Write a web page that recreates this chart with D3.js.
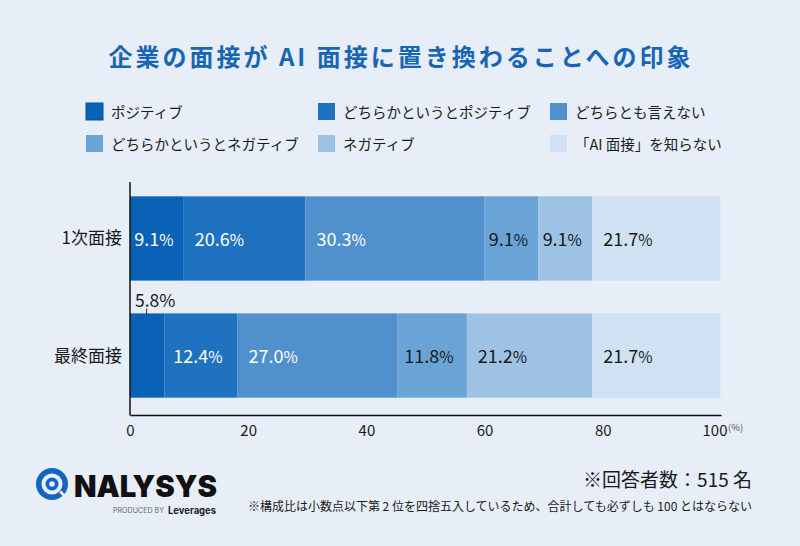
<!DOCTYPE html>
<html><head><meta charset="utf-8">
<script src="https://cdn.jsdelivr.net/npm/d3@7"></script>
<style>
body{margin:0;background:#e7eef8;}
svg{display:block;font-family:"Noto Sans CJK JP","Noto Sans",sans-serif;}
</style></head>
<body><svg id="c" width="800" height="546"></svg>
<script>
const title = "企業の面接が AI 面接に置き換わることへの印象";
const categories = ["1次面接", "最終面接"];
const seriesNames = ["ポジティブ", "どちらかというとポジティブ", "どちらとも言えない", "どちらかというとネガティブ", "ネガティブ", "「AI 面接」を知らない"];
const seriesColors = ["#0a62b6", "#1f72c0", "#4f90cd", "#6aa4d6", "#9dc2e4", "#cfe1f2"];
const labelColors = ["#ffffff", "#ffffff", "#ffffff", "#1a1a1a", "#1a1a1a", "#1a1a1a"];
const values1 = [9.1, 20.6, 30.3, 9.1, 9.1, 21.7];
const values2 = [5.8, 12.4, 27.0, 11.8, 21.2, 21.7];
const xTicks = [0, 20, 40, 60, 80, 100];
const respondents = "※回答者数：515 名";
const note = "※構成比は小数点以下第 2 位を四捨五入しているため、合計しても必ずしも 100 とはならない";

const rows = [values1, values2];
const svg = d3.select("#c");
svg.append("rect").attr("width", 800).attr("height", 546).attr("fill", "#e7eef8");

// Title
svg.append("text").attr("x", 401).attr("y", 66).attr("text-anchor", "middle")
  .attr("font-size", 24).attr("font-weight", 700).attr("letter-spacing", 3)
  .attr("fill", "#1766b6").text(title);

// Legend
const legX = [86, 318, 550];
const legY = [103, 135];
seriesNames.forEach((n, i) => {
  const g = svg.append("g").attr("transform", `translate(${legX[i % 3]},${legY[Math.floor(i / 3)]})`);
  g.append("rect").attr("width", 17).attr("height", 17).attr("fill", seriesColors[i])
    .attr("stroke", i === 0 ? "#0b4f9a" : "none").attr("stroke-width", 1);
  g.append("text").attr("x", 25).attr("y", 14.5).attr("font-size", 14.5).attr("fill", "#1a1a1a").text(n);
});

// Scales
const x = d3.scaleLinear().domain([0, 100]).range([130, 721]);
const y = d3.scaleBand().domain(categories).range([179, 415]).paddingInner(0.28).paddingOuter(0.148);

// Bars
categories.forEach((cat, r) => {
  let cum = 0;
  const vals = rows[r];
  vals.forEach((v, i) => {
    const x0 = x(cum), x1 = x(cum + v);
    svg.append("rect").attr("x", x0).attr("y", y(cat)).attr("width", x1 - x0)
      .attr("height", y.bandwidth()).attr("fill", seriesColors[i]);
    cum += v;
  });
});

// Labels
categories.forEach((cat, r) => {
  let cum = 0;
  const vals = rows[r];
  vals.forEach((v, i) => {
    const x0 = x(cum), x1 = x(cum + v);
    cum += v;
    const w = x1 - x0;
    const t = svg.append("text").attr("font-size", 18).attr("fill", labelColors[i]);
    t.append("tspan").text(v.toFixed(1));
    t.append("tspan").attr("font-size", 15.5).text("%");
    const tw = t.node().getComputedTextLength();
    if (tw + 4 > w) {
      // outside label above bar
      t.attr("fill", "#1a1a1a").attr("x", x0 + 5).attr("y", y(cat) - 6);
      t.selectAll("tspan").attr("font-size", 17.5);
      svg.append("line").attr("x1", x0 + (x1 - x0) / 2 - 0.5).attr("x2", x0 + (x1 - x0) / 2 - 0.5)
        .attr("y1", y(cat) - 5).attr("y2", y(cat) + 2).attr("stroke", "#333").attr("stroke-width", 1);
    } else {
      const pad = Math.min(11, Math.max(3, (w - tw) / 2 - 3));
      t.attr("x", x0 + pad).attr("y", y(cat) + y.bandwidth() / 2 + 7.5);
    }
  });
});

// Category labels
categories.forEach(cat => {
  svg.append("text").attr("x", 122).attr("y", y(cat) + y.bandwidth() / 2 + 6)
    .attr("text-anchor", "end").attr("font-size", 17).attr("fill", "#1a1a1a").text(cat);
});

// Axes
const xAxis = d3.axisBottom(x).tickValues(xTicks).tickSize(0).tickPadding(10).tickFormat(d3.format("d"));
const ax = svg.append("g").attr("transform", "translate(0,415)").call(xAxis);
ax.select(".domain").attr("stroke", "#111").attr("stroke-width", 1.5);
ax.selectAll("text").attr("font-size", 15).attr("fill", "#1a1a1a")
  .attr("font-family", "'Noto Sans CJK JP','Noto Sans',sans-serif");
ax.selectAll(".tick").filter(d => d === 100).select("text").attr("text-anchor", "end").attr("dx", 6);
svg.append("line").attr("x1", 130).attr("x2", 130).attr("y1", 182).attr("y2", 415.5)
  .attr("stroke", "#111").attr("stroke-width", 1.5);
svg.append("text").attr("x", 728).attr("y", 431).attr("font-size", 9.5).attr("fill", "#555").text("(%)");

// Footer
svg.append("text").attr("x", 752).attr("y", 487).attr("text-anchor", "end")
  .attr("font-size", 19).attr("fill", "#1a1a1a").text(respondents);
svg.append("text").attr("x", 752).attr("y", 511).attr("text-anchor", "end")
  .attr("font-size", 12).attr("fill", "#1a1a1a").text(note);

// Logo
const lg = svg.append("g").attr("transform", "translate(52,484)");
lg.append("circle").attr("r", 16).attr("fill", "#1565c0");
lg.append("circle").attr("r", 10.5).attr("fill", "#e7eef8");
lg.append("circle").attr("r", 6.5).attr("fill", "#1565c0");
lg.append("circle").attr("r", 2.8).attr("fill", "#e7eef8");
lg.append("rect").attr("x", 7).attr("y", 8).attr("width", 7).attr("height", 3).attr("fill", "#e7eef8")
  .attr("transform", "rotate(45 10 10)");
svg.append("text").attr("x", 74).attr("y", 497).attr("font-family", "Inter, 'DejaVu Sans', sans-serif")
  .attr("font-size", 30).attr("font-weight", 900).attr("fill", "#111").attr("textLength", 143)
  .attr("lengthAdjust", "spacingAndGlyphs").text("NALYSYS");
svg.append("text").attr("x", 113).attr("y", 513).attr("font-family", "Inter, sans-serif")
  .attr("font-size", 7).attr("fill", "#666").attr("textLength", 51)
  .attr("lengthAdjust", "spacingAndGlyphs").text("PRODUCED BY");
svg.append("text").attr("x", 168).attr("y", 514).attr("font-family", "Inter, sans-serif")
  .attr("font-size", 10).attr("font-weight", 700).attr("fill", "#222").attr("textLength", 48)
  .attr("lengthAdjust", "spacingAndGlyphs").text("Leverages");
</script></body></html>
